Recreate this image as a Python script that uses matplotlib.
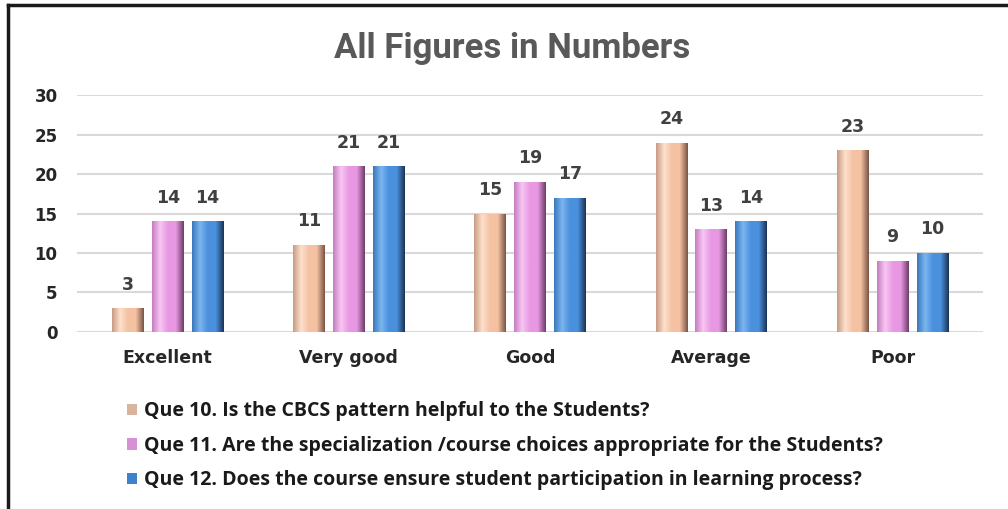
import numpy as np
import matplotlib
matplotlib.use("Agg")
import matplotlib.pyplot as plt
from matplotlib.colors import LinearSegmentedColormap
from matplotlib.lines import Line2D

# datos del grafico
categorias = ["Excellent", "Very good", "Good", "Average", "Poor"]
q10 = [3, 11, 15, 24, 23]
q11 = [14, 21, 19, 13, 9]
q12 = [14, 21, 17, 14, 10]
etiquetas = [
    "Que 10. Is the CBCS pattern helpful to the Students?",
    "Que 11. Are the specialization /course choices appropriate for the Students?",
    "Que 12. Does the course ensure student participation in learning process?",
]
y_ticks = [0, 5, 10, 15, 20, 25, 30]

# colores (oscuro, claro, base, oscuro borde)
paletas = [
    ["#c99c84", "#fde0cc", "#f4c2a2", "#7a5646"],
    ["#c77cc2", "#f8c6f4", "#e898e2", "#6e3d6a"],
    ["#3a78bd", "#7bb6f0", "#4a90dd", "#1b3456"],
]
legend_col = ["#d9b49c", "#d98fd4", "#3f82cc"]

fig = plt.figure(figsize=(10.08, 5.09), dpi=100)
ax = fig.add_axes([0.0764, 0.348, 0.899, 0.465])

x = np.arange(len(categorias))
ancho = 0.176
sep = 0.22
series = [q10, q11, q12]

for i, (vals, pal) in enumerate(zip(series, paletas)):
    cmap = LinearSegmentedColormap.from_list("g%d" % i, [pal[0], pal[1], pal[2], pal[2], pal[3]])
    grad = np.linspace(0, 1, 64).reshape(1, -1)
    barras = ax.bar(x + (i - 1) * sep, vals, ancho, color=legend_col[i],
                    label=etiquetas[i], zorder=3)
    for b, v in zip(barras, vals):
        bx, by = b.get_x(), b.get_y()
        img = ax.imshow(grad, cmap=cmap, aspect="auto", zorder=4,
                        extent=[bx, bx + b.get_width(), by, by + b.get_height()])
        img.set_clip_path(b)
        ax.text(bx + b.get_width() / 2, v + 3.0, str(v), ha="center", va="center",
                fontsize=12.5, fontweight="bold", color="#404040", family="DejaVu Sans")

ax.set_xlim(-0.5, len(categorias) - 0.5)
ax.set_ylim(0, 30)
ax.set_yticks(y_ticks)
ax.set_yticklabels([str(t) for t in y_ticks], fontsize=12, fontweight="bold",
                   family="DejaVu Sans", color="#262626")
ax.set_xticks(x)
ax.set_xticklabels(categorias, fontsize=12.5, fontweight="bold", family="DejaVu Sans",
                   color="#262626")
ax.tick_params(length=0, axis="y", pad=14)
ax.tick_params(length=0, axis="x", pad=12)
ax.grid(axis="y", color="#d9d9d9", linewidth=1.5, zorder=0)
for s in ax.spines.values():
    s.set_visible(False)

fig.text(0.508, 0.905, "All Figures in Numbers", ha="center", va="center",
         fontsize=25, fontweight="bold", color="#595959",
         family=["Roboto", "DejaVu Sans"])

leg = fig.legend(loc="upper left", bbox_to_anchor=(0.118, 0.2265), frameon=False,
                 prop={"family": "Open Sans", "weight": "bold", "size": 14},
                 handlelength=0.55, handleheight=0.55, handletextpad=0.35,
                 labelspacing=0.74, borderaxespad=0)
for t in leg.get_texts():
    t.set_color("#1a1a1a")

# marco de la imagen
fig.add_artist(Line2D([0.008, 0.008], [0, 0.99], transform=fig.transFigure,
                      color="#1a1a1a", linewidth=2.5))
fig.add_artist(Line2D([0.008, 1.0], [0.99, 0.99], transform=fig.transFigure,
                      color="#1a1a1a", linewidth=2.5))

fig.savefig("out.png", dpi=100)
